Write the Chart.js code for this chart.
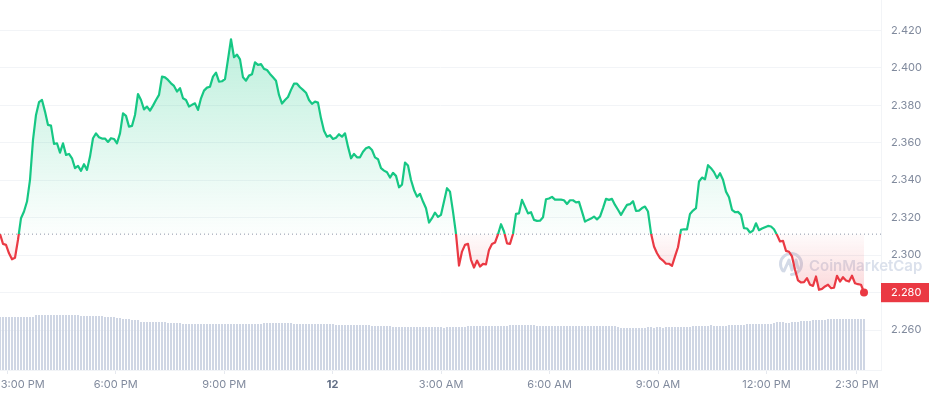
<!DOCTYPE html>
<html>
<head>
<meta charset="utf-8">
<title>Price chart</title>
<script src="https://cdn.jsdelivr.net/npm/chart.js@4"></script>
<style>
    html, body { margin: 0; padding: 0; background: #fff; }
    canvas { display: block; }
</style>
</head>
<body>
<canvas id="priceChart" width="929" height="396"></canvas>
<script>
// 5 minute closes
const prices = [
    2.3113, 2.3060, 2.3055, 2.3010, 2.2978, 2.2986, 2.3082, 2.3197, 2.3233, 2.3286,
    2.3402, 2.3615, 2.3748, 2.3816, 2.3828, 2.3766, 2.3695, 2.3691, 2.3594, 2.3597,
    2.3547, 2.3597, 2.3535, 2.3540, 2.3517, 2.3464, 2.3476, 2.3450, 2.3485, 2.3455,
    2.3526, 2.3624, 2.3650, 2.3629, 2.3622, 2.3622, 2.3604, 2.3624, 2.3620, 2.3597,
    2.3650, 2.3757, 2.3743, 2.3686, 2.3690, 2.3748, 2.3860, 2.3828, 2.3778, 2.3793,
    2.3771, 2.3798, 2.3828, 2.3855, 2.3953, 2.3949, 2.3935, 2.3917, 2.3903, 2.3873,
    2.3891, 2.3837, 2.3828, 2.3793, 2.3802, 2.3810, 2.3775, 2.3837, 2.3878, 2.3894,
    2.3899, 2.3953, 2.3974, 2.3926, 2.3928, 2.3939, 2.4045, 2.4152, 2.4056, 2.4070,
    2.4045, 2.3949, 2.3931, 2.3958, 2.3965, 2.4029, 2.4015, 2.4020, 2.3994, 2.3988,
    2.3967, 2.3949, 2.3931, 2.3855, 2.3809, 2.3828, 2.3844, 2.3882, 2.3915, 2.3915,
    2.3896, 2.3882, 2.3867, 2.3828, 2.3807, 2.3819, 2.3814, 2.3730, 2.3664, 2.3632,
    2.3640, 2.3620, 2.3627, 2.3645, 2.3632, 2.3650, 2.3579, 2.3517, 2.3540, 2.3522,
    2.3522, 2.3552, 2.3570, 2.3577, 2.3561, 2.3522, 2.3512, 2.3464, 2.3451, 2.3442,
    2.3414, 2.3439, 2.3423, 2.3362, 2.3376, 2.3494, 2.3478, 2.3401, 2.3348, 2.3312,
    2.3327, 2.3286, 2.3250, 2.3174, 2.3197, 2.3227, 2.3204, 2.3215, 2.3286, 2.3357,
    2.3339, 2.3232, 2.3113, 2.2944, 2.3019, 2.3055, 2.3060, 2.2975, 2.2934, 2.2971,
    2.2939, 2.2953, 2.2951, 2.3028, 2.3060, 2.3067, 2.3111, 2.3165, 2.3126, 2.3063,
    2.3060, 2.3113, 2.3220, 2.3223, 2.3295, 2.3259, 2.3223, 2.3229, 2.3188, 2.3183,
    2.3184, 2.3202, 2.3298, 2.3302, 2.3311, 2.3296, 2.3296, 2.3296, 2.3293, 2.3273,
    2.3293, 2.3293, 2.3282, 2.3284, 2.3232, 2.3179, 2.3188, 2.3195, 2.3206, 2.3191,
    2.3206, 2.3251, 2.3300, 2.3295, 2.3300, 2.3268, 2.3242, 2.3215, 2.3242, 2.3268,
    2.3272, 2.3288, 2.3236, 2.3238, 2.3251, 2.3259, 2.3233, 2.3117, 2.3046, 2.3010,
    2.2984, 2.2971, 2.2954, 2.2954, 2.2943, 2.2993, 2.3042, 2.3135, 2.3138, 2.3138,
    2.3220, 2.3238, 2.3251, 2.3393, 2.3414, 2.3405, 2.3480, 2.3464, 2.3443, 2.3411,
    2.3437, 2.3402, 2.3339, 2.3309, 2.3242, 2.3229, 2.3231, 2.3215, 2.3144, 2.3142,
    2.3121, 2.3131, 2.3170, 2.3133, 2.3142, 2.3149, 2.3156, 2.3153, 2.3138, 2.3108,
    2.3073, 2.3076, 2.3023, 2.3018, 2.2993, 2.2922, 2.2865, 2.2854, 2.2856, 2.2877,
    2.2842, 2.2836, 2.2886, 2.2815, 2.2820, 2.2833, 2.2842, 2.2824, 2.2826, 2.2890,
    2.2859, 2.2882, 2.2865, 2.2859, 2.2890, 2.2850, 2.2845, 2.2842, 2.2801
];

// relative volume, same slots as prices
const volumes = [
    53, 53, 53, 53, 53, 53, 53, 53, 53, 53, 53, 53, 55, 55, 55, 55, 55, 55, 55, 55,
    55, 55, 55, 55, 55, 55, 55, 54, 54, 54, 54, 54, 54, 54, 54, 53, 53, 53, 53, 52,
    52, 51, 51, 51, 50, 50, 50, 48, 48, 48, 48, 48, 48, 48, 48, 48, 47, 47, 47, 47,
    47, 46, 46, 46, 46, 46, 46, 46, 46, 46, 46, 46, 46, 46, 46, 46, 46, 46, 46, 46,
    46, 46, 46, 46, 46, 46, 46, 46, 47, 47, 47, 47, 47, 47, 47, 47, 47, 47, 46, 46,
    46, 46, 46, 46, 46, 46, 46, 46, 46, 46, 46, 46, 45, 45, 45, 45, 45, 45, 45, 45,
    45, 45, 45, 45, 44, 44, 44, 44, 44, 44, 44, 43, 43, 43, 43, 43, 43, 43, 43, 43,
    43, 43, 43, 43, 43, 43, 43, 43, 42, 43, 43, 43, 43, 43, 43, 43, 44, 44, 44, 44,
    44, 44, 44, 44, 44, 44, 44, 44, 44, 44, 45, 45, 45, 45, 45, 45, 45, 45, 45, 44,
    44, 44, 44, 44, 44, 44, 44, 44, 44, 44, 44, 44, 44, 44, 44, 44, 44, 44, 44, 44,
    44, 44, 44, 44, 44, 44, 43, 42, 42, 42, 42, 42, 42, 42, 42, 42, 43, 43, 42, 43,
    43, 42, 43, 43, 43, 43, 43, 43, 43, 43, 43, 44, 44, 44, 44, 44, 44, 45, 44, 44,
    44, 44, 44, 45, 45, 45, 45, 45, 45, 46, 46, 46, 46, 46, 46, 46, 46, 46, 47, 48,
    48, 48, 47, 47, 48, 48, 48, 49, 49, 49, 49, 50, 50, 50, 50, 50, 51, 51, 51, 51,
    51, 51, 51, 51, 51, 51, 51, 51, 51
];

const priceTicks = [2.42, 2.40, 2.38, 2.36, 2.34, 2.32, 2.30, 2.28, 2.26];
const timeTicks = [-540, -360, -180, 0, 180, 360, 540, 720, 870];   // minutes from midnight
const timeLabels = ['3:00 PM', '6:00 PM', '9:00 PM', '12', '3:00 AM', '6:00 AM', '9:00 AM', '12:00 PM', '2:30 PM'];
const openPrice = 2.3112;
const lastPrice = 2.28;

const green = '#16c784';
const red = '#ea3943';
const gridColor = '#f2f4f7';
const labelColor = '#808a9d';

const priceMin = 2.23870, priceMax = 2.43616;
const timeMin = -552, timeMax = 910;
const firstMinute = -552;
// one slot lands on 3 whole pixels of the 881px plot, keeps the bars crisp
const slotMinutes = 3 * (timeMax - timeMin) / 881;

const toPoints = list => list.map((v, i) => ({ x: firstMinute + i * slotMinutes, y: v }));

// colours depend on where the open price lands, so set them after layout
const priceColors = {
    id: 'priceColors',
    afterLayout(chart) {
        const { top, bottom } = chart.chartArea;
        const ctx = chart.ctx;
        const yScale = chart.scales.y;
        const baseY = yScale.getPixelForValue(openPrice);
        const stop = (baseY - top) / (bottom - top);

        const line = ctx.createLinearGradient(0, top, 0, bottom);
        line.addColorStop(0, green);
        line.addColorStop(stop, green);
        line.addColorStop(stop, red);
        line.addColorStop(1, red);

        const up = ctx.createLinearGradient(0, yScale.getPixelForValue(2.4152), 0, baseY);
        up.addColorStop(0, 'rgba(22, 199, 132, 0.28)');
        up.addColorStop(1, 'rgba(22, 199, 132, 0.01)');

        const down = ctx.createLinearGradient(0, baseY, 0, yScale.getPixelForValue(2.2801));
        down.addColorStop(0, 'rgba(234, 57, 67, 0.02)');
        down.addColorStop(1, 'rgba(234, 57, 67, 0.2)');

        const ds = chart.data.datasets[0];
        ds.borderColor = line;
        ds.fill = { target: { value: openPrice }, above: up, below: down };
    }
};

// CoinMarketCap mark behind the line
const watermark = {
    id: 'watermark',
    beforeDatasetsDraw(chart) {
        const ctx = chart.ctx;
        ctx.save();
        ctx.strokeStyle = '#d3dae7';
        ctx.lineWidth = 3;
        ctx.lineJoin = 'round';
        ctx.lineCap = 'round';
        ctx.beginPath();
        ctx.arc(791, 264, 10.5, Math.PI * 0.78, Math.PI * 0.55 + Math.PI * 2 - 0.2);
        ctx.stroke();
        ctx.beginPath();
        ctx.moveTo(784, 271);
        ctx.lineTo(789, 260);
        ctx.lineTo(792, 270);
        ctx.lineTo(796, 260);
        ctx.lineTo(798, 268);
        ctx.stroke();
        ctx.fillStyle = '#dbe1ec';
        ctx.font = '600 15px Inter';
        ctx.textAlign = 'left';
        ctx.textBaseline = 'middle';
        ctx.fillText('CoinMarketCap', 809, 266);
        ctx.restore();
    }
};

new Chart(document.getElementById('priceChart'), {
    data: {
        datasets: [
            {
                type: 'line',
                data: toPoints(prices),
                yAxisID: 'y',
                borderColor: green,
                borderWidth: 2.2,
                borderJoinStyle: 'round',
                tension: 0,
                pointRadius: ctx => ctx.dataIndex === prices.length - 1 ? 4 : 0,
                pointBackgroundColor: red,
                pointBorderWidth: 0,
                order: 1
            },
            {
                type: 'line',
                data: [{ x: timeMin, y: openPrice }, { x: timeMax, y: openPrice }],
                yAxisID: 'y',
                borderColor: '#8d96a8',
                borderWidth: 1,
                borderDash: [1, 3],
                pointRadius: 0,
                fill: false,
                order: 2
            },
            {
                type: 'bar',
                data: toPoints(volumes),
                yAxisID: 'volume',
                backgroundColor: '#cfd6e4',
                barThickness: 2,
                inflateAmount: 0,
                order: 3
            }
        ]
    },
    options: {
        responsive: false,
        animation: false,
        devicePixelRatio: 1,
        layout: { padding: 0, autoPadding: false },
        plugins: { legend: { display: false }, tooltip: { enabled: false } },
        scales: {
            x: {
                type: 'linear',
                offset: false,
                min: timeMin,
                max: timeMax,
                afterBuildTicks: scale => { scale.ticks = timeTicks.map(value => ({ value })); },
                afterFit: scale => {
                    scale.height = 26;
                    scale.paddingLeft = 0;
                    scale.paddingRight = 0;
                },
                grid: { offset: false, drawOnChartArea: false, drawTicks: true, tickLength: 4, tickColor: '#e6e9ef' },
                border: { color: gridColor },
                ticks: {
                    autoSkip: false,
                    maxRotation: 0,
                    minRotation: 0,
                    padding: 4,
                    color: ctx => ctx.tick && ctx.tick.value === 0 ? '#616e85' : labelColor,
                    font: ctx => ({ family: 'Inter', size: 11, weight: ctx.tick && ctx.tick.value === 0 ? 'bold' : 'normal' }),
                    // first label would fall off the left edge, push it in
                    callback: (value, index) => (index === 0 ? ' '.repeat(10) : '') + timeLabels[index]
                }
            },
            y: {
                type: 'linear',
                position: 'right',
                min: priceMin,
                max: priceMax,
                afterBuildTicks: scale => { scale.ticks = priceTicks.map(value => ({ value })); },
                afterFit: scale => {
                    scale.width = 48;
                    scale.paddingTop = 0;
                    scale.paddingBottom = 0;
                },
                grid: { color: gridColor, drawTicks: false },
                border: { color: gridColor },
                ticks: {
                    padding: 10,
                    color: ctx => ctx.tick && ctx.tick.value === lastPrice ? '#fff' : labelColor,
                    font: { family: 'Inter', size: 11 },
                    showLabelBackdrop: true,
                    backdropColor: ctx => ctx.tick && ctx.tick.value === lastPrice ? red : 'rgba(0,0,0,0)',
                    backdropPadding: { left: 10, right: 10, top: 3, bottom: 3 },
                    callback: value => value.toFixed(3)
                }
            },
            volume: {
                type: 'linear',
                display: false,
                min: 0,
                max: 370
            }
        }
    },
    plugins: [priceColors, watermark]
});
</script>
</body>
</html>
